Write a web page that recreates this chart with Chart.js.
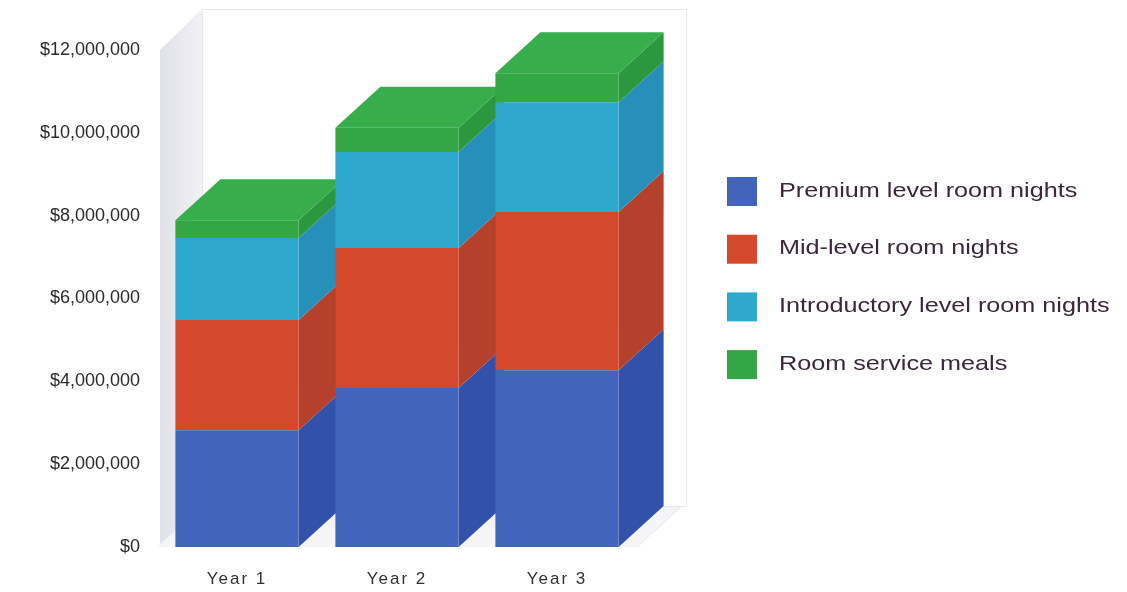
<!DOCTYPE html>
<html>
<head>
<meta charset="utf-8">
<script src="https://cdn.jsdelivr.net/npm/chart.js@4/dist/chart.umd.min.js"></script>
<style>
  html, body { margin: 0; padding: 0; background: #fff; }
  #wrap { width: 1127px; height: 592px; }
</style>
</head>
<body>
<div id="wrap"><canvas id="myChart" width="1127" height="592"></canvas></div>
<script>
// data
var years = ['Year 1', 'Year 2', 'Year 3'];
var premium = [2820000, 3840000, 4270000];
var midLevel = [2660000, 3380000, 3820000];
var introductory = [1980000, 2320000, 2650000];
var roomService = [430000, 580000, 700000];
var seriesNames = ['Premium level room nights', 'Mid-level room nights', 'Introductory level room nights', 'Room service meals'];

var frontColors = ['#4264bb', '#d4492c', '#2fa8cd', '#33a646'];
var sideColors = ['#3151ab', '#b5402c', '#2790ba', '#2b973e'];
var topColor = '#37ad4b';

var DX = 45, DY = 41;
var FONT = '"Liberation Sans", Arial, sans-serif';

// walls + side and top faces, drawn before the library paints the fronts
var box3d = {
    id: 'box3d',
    beforeDatasetsDraw: function (chart) {
        var ctx = chart.ctx;
        var a = chart.chartArea;
        ctx.save();
        // left wall
        var g = ctx.createLinearGradient(a.left, 0, a.left + DX, 0);
        g.addColorStop(0, '#dfdfe8');
        g.addColorStop(1, '#f1f1f5');
        ctx.fillStyle = g;
        ctx.beginPath();
        ctx.moveTo(a.left + 3, a.top);
        ctx.lineTo(a.left + DX, a.top - DY);
        ctx.lineTo(a.left + DX, a.bottom - DY);
        ctx.lineTo(a.left + 3, a.bottom);
        ctx.closePath();
        ctx.fill();
        // floor
        ctx.fillStyle = '#f5f5f7';
        ctx.beginPath();
        ctx.moveTo(a.left, a.bottom);
        ctx.lineTo(a.right, a.bottom);
        ctx.lineTo(a.right + DX, a.bottom - DY);
        ctx.lineTo(a.left + DX, a.bottom - DY);
        ctx.closePath();
        ctx.fill();
        ctx.strokeStyle = '#e8e8e8';
        ctx.lineWidth = 1;
        ctx.beginPath();
        ctx.moveTo(a.right, a.bottom);
        ctx.lineTo(a.right + DX, a.bottom - DY);
        ctx.stroke();
        // back wall border
        ctx.strokeStyle = '#e8e8ec';
        ctx.strokeRect(a.left + DX + 0.5, a.top - DY + 0.5, a.right - a.left + 4, a.bottom - a.top);

        var n = chart.data.datasets.length;
        for (var d = 0; d < n; d++) {
            var meta = chart.getDatasetMeta(d);
            meta.data.forEach(function (el) {
                var p = el.getProps(['x', 'y', 'base', 'width'], true);
                var l = p.x - p.width / 2, r = p.x + p.width / 2;
                ctx.fillStyle = sideColors[d];
                ctx.beginPath();
                ctx.moveTo(r, p.y);
                ctx.lineTo(r + DX, p.y - DY);
                ctx.lineTo(r + DX, p.base - DY);
                ctx.lineTo(r, p.base);
                ctx.closePath();
                ctx.fill();
                if (d === n - 1) {
                    ctx.fillStyle = topColor;
                    ctx.beginPath();
                    ctx.moveTo(l, p.y);
                    ctx.lineTo(l + DX, p.y - DY);
                    ctx.lineTo(r + DX, p.y - DY);
                    ctx.lineTo(r, p.y);
                    ctx.closePath();
                    ctx.fill();
                }
            });
        }
        ctx.restore();
    },
    afterDatasetsDraw: function (chart) {
        // x tick labels (z 1) come after this, a little wider lettering
        chart.ctx.letterSpacing = '2px';
    },
    afterDraw: function (chart) {
        var ctx = chart.ctx;
        ctx.letterSpacing = '0px';
        // legend on the right
        ctx.save();
        ctx.font = '21px ' + FONT;
        ctx.textBaseline = 'middle';
        chart.data.datasets.forEach(function (ds, i) {
            var cy = 191 + i * 57.7;
            ctx.fillStyle = ds.backgroundColor;
            ctx.fillRect(727, cy - 14, 30, 29);
            ctx.save();
            ctx.translate(779, cy);
            ctx.scale(1.2, 1);
            ctx.fillStyle = '#3a2739';
            ctx.fillText(ds.label, 0, 0);
            ctx.restore();
        });
        ctx.restore();
    }
};

var values = [premium, midLevel, introductory, roomService];
var datasets = values.map(function (v, i) {
    return {
        label: seriesNames[i],
        data: v,
        backgroundColor: frontColors[i],
        borderWidth: 0,
        barPercentage: 0.77,
        categoryPercentage: 1
    };
});

var ctx = document.getElementById('myChart');
var myChart = new Chart(ctx, {
    type: 'bar',
    data: { labels: years, datasets: datasets },
    options: {
        responsive: false,
        animation: false,
        layout: { padding: { top: 50, right: 490, bottom: 0, left: 0 } },
        plugins: { legend: { display: false }, tooltip: { enabled: false } },
        scales: {
            x: {
                stacked: true,
                grid: { display: false, drawTicks: false },
                border: { display: false },
                ticks: { z: 1, padding: 22, color: '#333', font: { family: FONT, size: 17 } },
                afterFit: function (s) { s.height = 45; }
            },
            y: {
                stacked: true,
                min: 0,
                max: 12000000,
                grid: { display: false, drawTicks: false },
                border: { display: false },
                ticks: {
                    stepSize: 2000000,
                    padding: 17,
                    color: '#2b2b2b',
                    font: { family: FONT, size: 18 },
                    callback: function (v) { return '$' + v.toLocaleString('en-US'); }
                },
                afterFit: function (s) { s.width = 157; }
            }
        }
    },
    plugins: [box3d]
});
</script>
</body>
</html>
